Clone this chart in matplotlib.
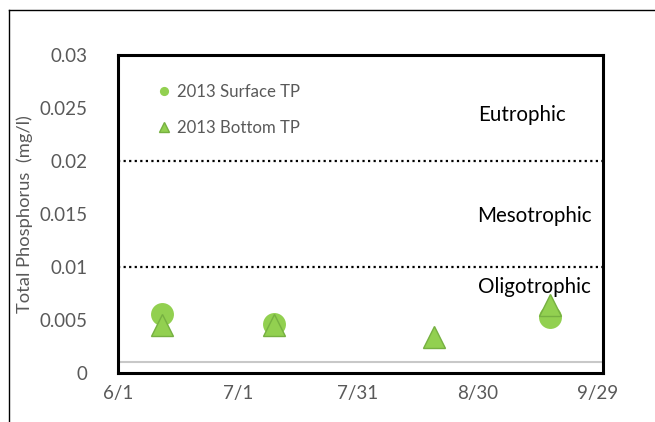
import numpy as np
import matplotlib
matplotlib.use("Agg")
import matplotlib.pyplot as plt
from matplotlib.lines import Line2D
import datetime as dt

plt.rcParams["font.family"] = ["Lato", "DejaVu Sans"]

# --- data (2013) ---
surface_dates = ["2013-06-12", "2013-07-10", "2013-09-17"]
surface_tp = [0.0055, 0.0046, 0.0053]
bottom_dates = ["2013-06-12", "2013-07-10", "2013-08-19", "2013-09-17"]
bottom_tp = [0.0045, 0.0045, 0.0034, 0.0064]

tick_dates = ["2013-06-01", "2013-07-01", "2013-07-31", "2013-08-30", "2013-09-29"]
tick_labels = ["6/1", "7/1", "7/31", "8/30", "9/29"]
y_ticks = [0, 0.005, 0.01, 0.015, 0.02, 0.025, 0.03]
y_tick_labels = ["0", "0.005", "0.01", "0.015", "0.02", "0.025", "0.03"]

thresholds = [0.01, 0.02]
detection_limit = 0.001
zone_names = ["Eutrophic", "Mesotrophic", "Oligotrophic"]
zone_dates = ["2013-09-10", "2013-09-13", "2013-09-13"]
zone_levels = [0.0243, 0.0148, 0.0081]


def to_dates(vals):
    return [dt.datetime.strptime(v, "%Y-%m-%d") for v in vals]


GREEN = "#92D050"
GREEN_EDGE = "#76B041"
GREY_TXT = "#595959"

fig = plt.figure(figsize=(6.55, 4.22), dpi=100)
ax = fig.add_axes([0.1802, 0.1168, 0.7404, 0.7529])

ax.plot(to_dates(surface_dates), surface_tp, linestyle="none", marker="o",
        markersize=16.5, color=GREEN, markeredgewidth=0, label="2013 Surface TP",
        zorder=3)
ax.plot(to_dates(bottom_dates), bottom_tp, linestyle="none", marker="^",
        markersize=16.5, markerfacecolor=GREEN, markeredgecolor=GREEN_EDGE,
        markeredgewidth=1, label="2013 Bottom TP", zorder=4)

for t in thresholds:
    ax.axhline(t, color="black", linestyle=(0, (1, 1.5)), linewidth=1.6, zorder=2)
ax.axhline(detection_limit, color="#C8C8C8", linewidth=1.5, zorder=1)

for name, d, lvl in zip(zone_names, to_dates(zone_dates), zone_levels):
    ax.text(d, lvl, name, ha="center", va="center", fontsize=14.8, color="black")

ax.set_xlim(dt.datetime(2013, 6, 1), dt.datetime(2013, 9, 30, 6))
ax.set_ylim(0, 0.03)
ax.set_xticks(to_dates(tick_dates))
ax.set_xticklabels(tick_labels)
ax.set_yticks(y_ticks)
ax.set_yticklabels(y_tick_labels)
ax.tick_params(axis="both", length=0, labelsize=13.5, labelcolor=GREY_TXT)
ax.tick_params(axis="y", pad=22)
ax.tick_params(axis="x", pad=9)
for s in ax.spines.values():
    s.set_linewidth(2.2)
    s.set_color("black")

ax.set_ylabel("Total Phosphorus  (mg/l)", fontsize=13.2, color=GREY_TXT)
ax.yaxis.set_label_coords(-0.175, 0.5)

leg = ax.legend(loc="upper left", bbox_to_anchor=(0.081, 0.909), frameon=False,
                fontsize=12.1, markerscale=0.4, handlelength=0.8,
                handletextpad=0.4, labelspacing=1.19, borderpad=0,
                borderaxespad=0)
for t in leg.get_texts():
    t.set_color(GREY_TXT)

# chart area border (top and left edges visible in the crop)
fig.add_artist(Line2D([9 / 655, 1], [1 - 10 / 422, 1 - 10 / 422],
                      transform=fig.transFigure, color="black", linewidth=1))
fig.add_artist(Line2D([9 / 655, 9 / 655], [0, 1 - 10 / 422],
                      transform=fig.transFigure, color="black", linewidth=1))

fig.savefig("out.png", dpi=100)
